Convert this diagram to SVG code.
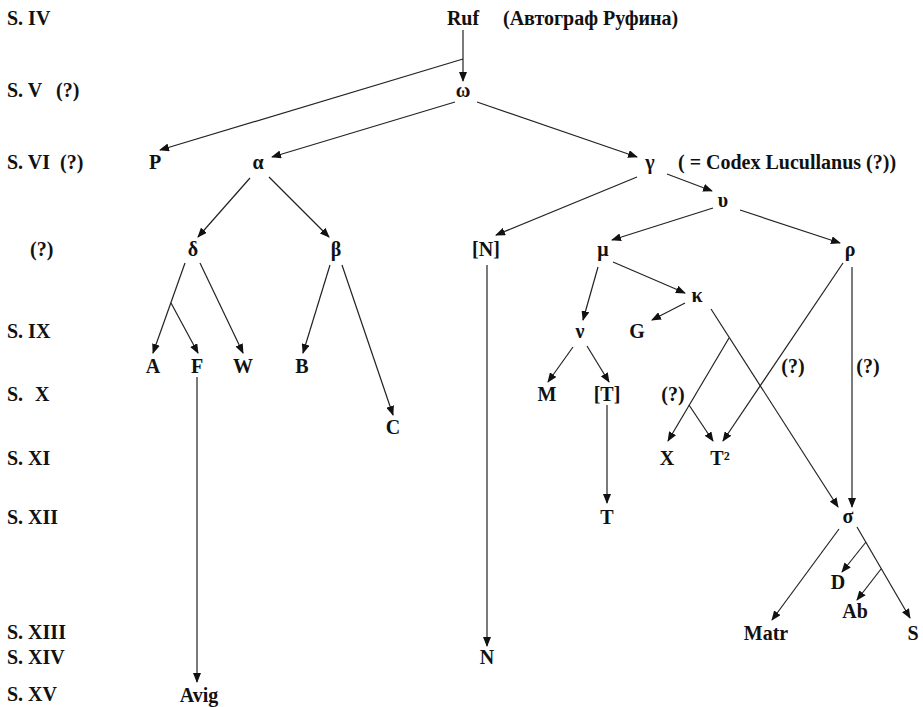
<svg xmlns="http://www.w3.org/2000/svg" width="923" height="707" viewBox="0 0 923 707">
<style>
text{font-family:"Liberation Serif","Times New Roman",serif;font-weight:bold;font-size:20px;fill:#111}
.n{text-anchor:middle}
.c line{stroke:#222;stroke-width:1.2}
.a{marker-end:url(#ah)}
</style>
<defs>
<marker id="ah" markerUnits="userSpaceOnUse" markerWidth="10" markerHeight="8" refX="9" refY="4" orient="auto">
<path d="M0,0 L10,4 L0,8 z" fill="#111"/>
</marker>
</defs>
<rect width="923" height="707" fill="#fff"/>
<g id="century-labels">
<text x="7" y="25">S. IV</text>
<text x="7" y="97">S. V<tspan x="56">(?)</tspan></text>
<text x="7" y="169">S. VI<tspan x="60">(?)</tspan></text>
<text x="30" y="256">(?)</text>
<text x="7" y="338">S. IX</text>
<text x="7" y="401">S.<tspan x="35">X</tspan></text>
<text x="7" y="465">S. XI</text>
<text x="7" y="524">S. XII</text>
<text x="7" y="639">S. XIII</text>
<text x="7" y="664">S. XIV</text>
<text x="7" y="701">S. XV</text>
</g>
<g class="c" id="connectors">
<line class="a" x1="463" y1="30" x2="463" y2="81"/>
<line class="a" x1="463" y1="59" x2="160" y2="150"/>
<line class="a" x1="455" y1="102" x2="272" y2="157"/>
<line class="a" x1="477" y1="102" x2="637" y2="157"/>
<line class="a" x1="250" y1="178" x2="198" y2="237"/>
<line class="a" x1="269" y1="177" x2="329" y2="237"/>
<line class="a" x1="637" y1="177" x2="496" y2="235"/>
<line class="a" x1="667" y1="174" x2="712" y2="191"/>
<line class="a" x1="713" y1="208" x2="612" y2="240"/>
<line class="a" x1="740" y1="210" x2="840" y2="243"/>
<line class="a" x1="185" y1="263" x2="153" y2="353"/>
<line class="a" x1="171" y1="303" x2="198" y2="353"/>
<line class="a" x1="200" y1="263" x2="243" y2="353"/>
<line class="a" x1="330" y1="265" x2="303" y2="353"/>
<line class="a" x1="342" y1="265" x2="393" y2="415"/>
<line class="a" x1="197" y1="377" x2="197" y2="682"/>
<line class="a" x1="487" y1="265" x2="487" y2="646"/>
<line class="a" x1="598" y1="267" x2="583" y2="320"/>
<line class="a" x1="613" y1="262" x2="685" y2="293"/>
<line class="a" x1="685" y1="303" x2="652" y2="320"/>
<line class="a" x1="573" y1="347" x2="548" y2="382"/>
<line class="a" x1="587" y1="346" x2="609" y2="382"/>
<line class="a" x1="607" y1="405" x2="607" y2="503"/>
<line class="a" x1="711" y1="309" x2="838" y2="507"/>
<line class="a" x1="729" y1="338" x2="668" y2="441"/>
<line class="a" x1="689" y1="405" x2="713" y2="441"/>
<line class="a" x1="843" y1="263" x2="723" y2="441"/>
<line class="a" x1="852" y1="267" x2="852" y2="507"/>
<line class="a" x1="839" y1="529" x2="772" y2="620"/>
<line class="a" x1="857" y1="527" x2="910" y2="618"/>
<line class="a" x1="866" y1="542" x2="842" y2="572"/>
<line class="a" x1="881" y1="569" x2="857" y2="600"/>
</g>
<g id="edge-labels">
<text class="n" x="673" y="401">(?)</text>
<text class="n" x="793" y="373">(?)</text>
<text class="n" x="868" y="373">(?)</text>
</g>
<g id="Ruf"><text class="n" x="463" y="25">Ruf</text><text x="503" y="25">(Автограф Руфина)</text></g>
<g id="omega"><text class="n" x="463" y="97">ω</text></g>
<g id="P"><text class="n" x="155" y="169">P</text></g>
<g id="alpha"><text class="n" x="258" y="169">α</text></g>
<g id="gamma"><text class="n" x="650" y="169">γ</text><text x="678" y="169">( = Codex Lucullanus (?))</text></g>
<g id="upsilon"><text class="n" x="723" y="207">υ</text></g>
<g id="delta"><text class="n" x="193" y="256">δ</text></g>
<g id="beta"><text class="n" x="336" y="256">β</text></g>
<g id="N-lost"><text class="n" x="486" y="256">[N]</text></g>
<g id="mu"><text class="n" x="603" y="256">μ</text></g>
<g id="rho"><text class="n" x="850" y="256">ρ</text></g>
<g id="kappa"><text class="n" x="697" y="302">κ</text></g>
<g id="G"><text class="n" x="637" y="338">G</text></g>
<g id="nu"><text class="n" x="580" y="338">ν</text></g>
<g id="A"><text class="n" x="153" y="373">A</text></g>
<g id="F"><text class="n" x="197" y="373">F</text></g>
<g id="W"><text class="n" x="243" y="373">W</text></g>
<g id="B"><text class="n" x="302" y="373">B</text></g>
<g id="M"><text class="n" x="547" y="401">M</text></g>
<g id="T-lost"><text class="n" x="607" y="401">[T]</text></g>
<g id="C"><text class="n" x="393" y="434">C</text></g>
<g id="X"><text class="n" x="667" y="465">X</text></g>
<g id="T2"><text class="n" x="720" y="465">T²</text></g>
<g id="T"><text class="n" x="607" y="524">T</text></g>
<g id="sigma"><text class="n" x="848" y="523">σ</text></g>
<g id="D"><text class="n" x="838" y="589">D</text></g>
<g id="Ab"><text class="n" x="855" y="618">Ab</text></g>
<g id="Matr"><text class="n" x="766" y="640">Matr</text></g>
<g id="S"><text class="n" x="913" y="640">S</text></g>
<g id="N"><text class="n" x="487" y="664">N</text></g>
<g id="Avig"><text class="n" x="199" y="702">Avig</text></g>
</svg>
